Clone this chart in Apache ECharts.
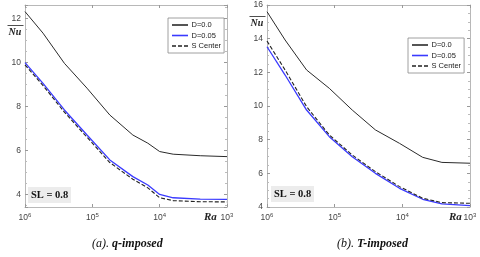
<!DOCTYPE html>
<html><head><meta charset="utf-8">
<script src="https://cdn.jsdelivr.net/npm/echarts@6/dist/echarts.min.js"></script>
<style>html,body{margin:0;padding:0;background:#fff}#c{width:480px;height:257px}</style>
</head><body><div id="c"></div>
<script>
// ---- data ----
const raQ = [1e6, 5.4e5, 2.6e5, 1.2e5, 5.5e4, 2.5e4, 1.5e4, 1e4, 6.3e3, 2.5e3, 1e3];
const nuQ_D0   = [12.31, 11.33, 9.96, 8.83, 7.61, 6.70, 6.33, 5.95, 5.83, 5.76, 5.72];
const nuQ_D005 = [9.99, 9.05, 7.84, 6.70, 5.57, 4.81, 4.43, 4.00, 3.85, 3.79, 3.78];
const nuQ_S    = [9.89, 8.95, 7.74, 6.60, 5.45, 4.69, 4.30, 3.85, 3.72, 3.67, 3.66];

const raT = [1e6, 5.4e5, 2.6e5, 1.2e5, 5.5e4, 2.5e4, 1.1e4, 5e3, 2.6e3, 1e3];
const nuT_D0   = [15.6, 13.92, 12.14, 11.05, 9.76, 8.58, 7.78, 6.95, 6.65, 6.60];
const nuT_D005 = [13.52, 11.84, 9.76, 8.18, 6.99, 6.00, 5.11, 4.46, 4.18, 4.08];
const nuT_S    = [13.86, 12.14, 9.96, 8.28, 7.09, 6.10, 5.21, 4.52, 4.26, 4.22];

const names = ['D=0.0', 'D=0.05', 'S Center'];
const captions = ['(a). ', 'q-imposed', '(b). ', 'T-imposed'];
const slText = 'SL = 0.8';

// ---- chart ----
const chart = echarts.init(document.getElementById('c'), null, {renderer: 'canvas'});
const frame = '#b8b8b8';
const lab = {color: '#444', fontSize: 8.5, fontFamily: 'Liberation Sans, Arial'};

function xAxes(gi) {
  const base = {
    type: 'log', logBase: 10, min: 1e3, max: 1e6, inverse: true, gridIndex: gi,
    axisLine: {lineStyle: {color: frame, width: 1}},
    splitLine: {show: false},
    axisTick: {inside: true, length: 3, lineStyle: {color: '#999'}},
  };
  return [
    Object.assign({}, base, {position: 'bottom',
      axisLabel: Object.assign({}, lab, {margin: 5,
        formatter: v => '10{s|' + Math.round(Math.log10(v)) + '}',
        rich: {s: {fontSize: 6, verticalAlign: 'top', padding: [0,0,5,0], color: '#444'}}})}),
    Object.assign({}, base, {position: 'top', axisLabel: {show: false}})
  ];
}
function yAxes(gi, mn, mx) {
  const base = {
    type: 'value', min: mn, max: mx, gridIndex: gi, splitNumber: 5,
    axisLine: {show: true, lineStyle: {color: frame, width: 1}},
    splitLine: {show: false},
    axisTick: {show: true, inside: true, length: 3, lineStyle: {color: '#999'}},
    minorTick: {show: true, splitNumber: 4, length: 2, lineStyle: {color: '#bbb'}},
  };
  return [
    Object.assign({}, base, {position: 'left',
      axisLabel: Object.assign({}, lab, {margin: 4, showMinLabel: mn % 2 === 0, showMaxLabel: mx % 2 === 0})}),
    Object.assign({}, base, {position: 'right', axisLabel: {show: false}})
  ];
}

const styles = {
  'D=0.0': {color: '#2a2a2a', width: 1, type: 'solid'},
  'D=0.05': {color: '#3a3aff', width: 1.3, type: 'solid'},
  'S Center': {color: '#222', width: 1.1, type: [4, 2]}
};
function line(name, xi, yi, ra, nu) {
  const st = styles[name];
  return {
    name, type: 'line', xAxisIndex: xi, yAxisIndex: yi, symbol: 'none', smooth: false,
    data: ra.map((r, i) => [r, nu[i]]),
    lineStyle: st, itemStyle: {color: st.color}, z: name === 'S Center' ? 3 : 2
  };
}

const solidIcon = 'path://M0,0h20v2h-20z';
const dashIcon = 'path://M0,0h5v2h-5zM7.5,0h5v2h-5zM15,0h5v2h-5z';
const legendBase = {
  orient: 'vertical', itemWidth: 17, itemHeight: 1.6, itemGap: 2.5,
  backgroundColor: '#fff', borderColor: '#888', borderWidth: 0.8, padding: [3, 3, 3, 4],
  textStyle: {fontSize: 7.5, color: '#222', fontFamily: 'Liberation Sans, Arial', padding: [0,0,0,-2]},
  data: [
    {name: names[0], icon: solidIcon},
    {name: names[1], icon: solidIcon},
    {name: names[2], icon: dashIcon}
  ],
  selectedMode: false
};

function nuTitle(x, y) {
  return {type: 'group', left: x, top: y, children: [
    {type: 'line', shape: {x1: 0, y1: 0, x2: 16, y2: 0}, style: {stroke: '#222', lineWidth: 0.8}},
    {type: 'text', left: 1, top: 2, style: {text: 'Nu', font: 'italic bold 10px "Liberation Serif", serif', fill: '#222'}}
  ]};
}
function slBox(x, y) {
  return {type: 'group', left: x, top: y, children: [
    {type: 'rect', shape: {x: 0, y: 0, width: 43, height: 16}, style: {fill: '#ececec'}},
    {type: 'text', left: 3, top: 2.5, style: {text: slText, font: 'bold 10.5px "Liberation Serif", serif', fill: '#111'}}
  ]};
}
function raLabel(x, y) {
  return {type: 'text', left: x, top: y, style: {text: 'Ra', font: 'italic bold 11px "Liberation Serif", serif', fill: '#222'}};
}
function caption(x, y, a, b) {
  return {type: 'text', left: x, top: y, style: {
    text: '{a|' + a + '}{b|' + b + '}',
    rich: {a: {font: 'italic 12px "Liberation Serif", serif', fill: '#111'},
           b: {font: 'italic bold 12px "Liberation Serif", serif', fill: '#111'}}}};
}

chart.setOption({
  animation: false,
  grid: [
    {left: 25, top: 5, width: 202, height: 202},
    {left: 267, top: 5, width: 203, height: 202}
  ],
  xAxis: xAxes(0).concat(xAxes(1)),
  yAxis: yAxes(0, 3.43, 12.61).concat(yAxes(1, 4, 16)),
  legend: [
    Object.assign({}, legendBase, {left: 168, top: 18}),
    Object.assign({}, legendBase, {left: 408, top: 38})
  ],
  series: [
    line(names[0], 0, 0, raQ, nuQ_D0),
    line(names[1], 0, 0, raQ, nuQ_D005),
    line(names[2], 0, 0, raQ, nuQ_S),
    line(names[0], 2, 2, raT, nuT_D0),
    line(names[1], 2, 2, raT, nuT_D005),
    line(names[2], 2, 2, raT, nuT_S)
  ],
  graphic: [
    nuTitle(5, 23), nuTitle(247, 14),
    slBox(28, 187), slBox(271, 186),
    raLabel(204, 212), raLabel(449, 212),
    caption(92, 238, captions[0], captions[1]),
    caption(337, 238, captions[2], captions[3])
  ]
});
</script></body></html>
